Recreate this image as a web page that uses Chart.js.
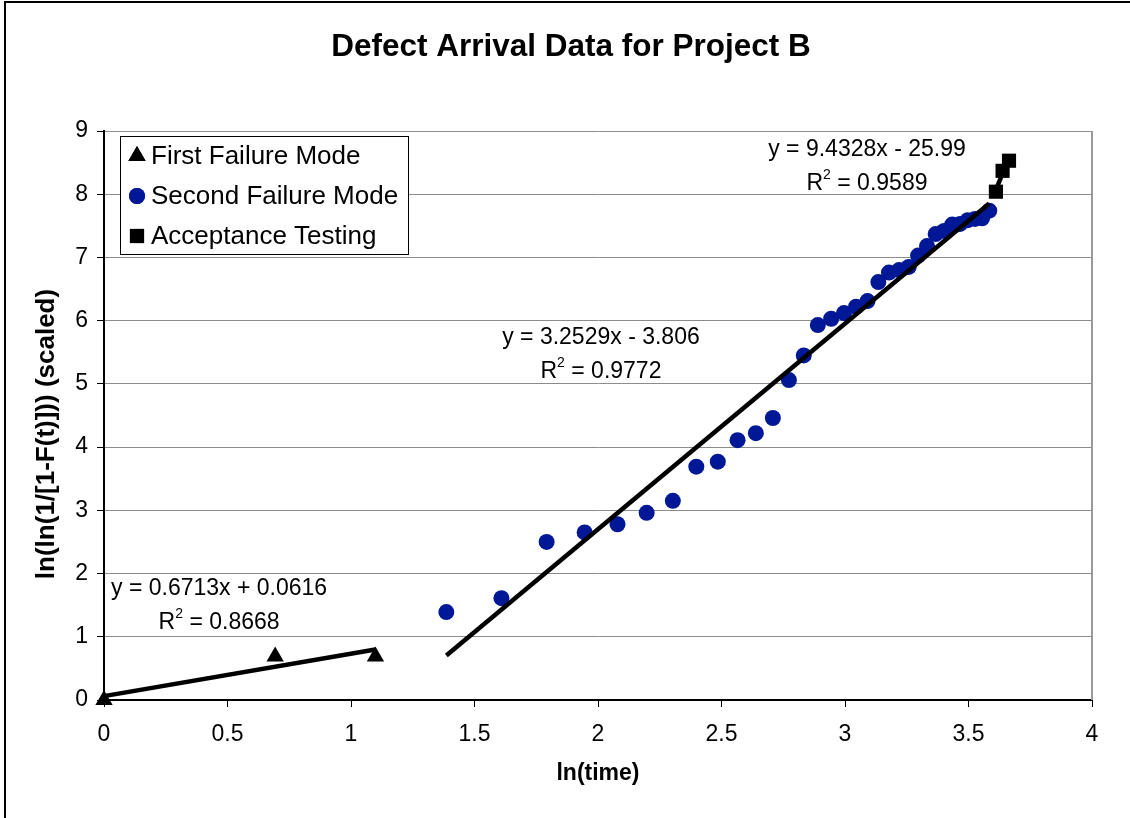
<!DOCTYPE html>
<html>
<head>
<meta charset="utf-8">
<script src="https://cdn.jsdelivr.net/npm/chart.js@4/dist/chart.umd.min.js"></script>
<style>
  body { margin: 0; background: #fff; }
  #wrap { position: relative; width: 1130px; height: 818px; overflow: hidden; }
  #frame { position: absolute; left: 4px; top: 1px; width: 1200px; height: 900px;
           border-left: 2px solid #000; border-top: 2px solid #000; pointer-events: none; }
  canvas { position: absolute; left: 0; top: 0; }
</style>
</head>
<body>
<div id="wrap">
  <div id="frame"></div>
  <canvas id="chart" width="1130" height="818"></canvas>
</div>
<script>
const FONT = 'Arial, "Liberation Sans", sans-serif';

// ln(time) and ln(ln(1/[1-F(t)])) (scaled)
const firstX = [0, 0.693, 1.099];
const firstY = [0, 0.69, 0.69];

const secondX = [1.386, 1.609, 1.792, 1.946, 2.079, 2.197, 2.303, 2.398, 2.485, 2.565,
                 2.639, 2.708, 2.773, 2.833, 2.890, 2.944, 2.996, 3.045, 3.091, 3.135,
                 3.178, 3.219, 3.258, 3.296, 3.332, 3.367, 3.401, 3.434, 3.466, 3.497,
                 3.526, 3.555, 3.584];
const secondY = [1.39, 1.61, 2.50, 2.65, 2.78, 2.96, 3.15, 3.69, 3.77, 4.11,
                 4.22, 4.46, 5.06, 5.45, 5.93, 6.03, 6.12, 6.22, 6.31, 6.61,
                 6.76, 6.80, 6.85, 7.03, 7.18, 7.37, 7.42, 7.52, 7.53, 7.59,
                 7.61, 7.62, 7.74];

const acceptX = [3.611, 3.638, 3.664];
const acceptY = [8.04, 8.37, 8.53];

const seriesNames = ["First Failure Mode", "Second Failure Mode", "Acceptance Testing"];

// linear trendlines: slope, intercept, x range
const trendSlope = [0.6713, 3.2529, 9.4328];
const trendIntercept = [0.0616, -3.806, -25.99];
const trendFrom = [0, 1.386, 3.611];
const trendTo = [1.099, 3.584, 3.664];
const trendEq = ["y = 0.6713x + 0.0616", "y = 3.2529x - 3.806", "y = 9.4328x - 25.99"];
const trendR2 = ["0.8668", "0.9772", "0.9589"];
// where each equation label sits, in data units (centre of the first line)
const labelX = [0.466, 2.012, 3.089];
const labelY = [1.76, 5.73, 8.70];

const xTicks = [0, 0.5, 1, 1.5, 2, 2.5, 3, 3.5, 4];
const yTicks = [0, 1, 2, 3, 4, 5, 6, 7, 8, 9];

const BLUE = "#001796";
const markerStyle = ["triangle", "circle", "rect"];
const markerColor = ["#000", BLUE, "#000"];
const markerSize = [10, 8, 10];

function pts(xs, ys) {
  return xs.map((x, i) => ({ x: x, y: ys[i] }));
}

function trend(i) {
  const a = trendSlope[i], b = trendIntercept[i];
  return [
    { x: trendFrom[i], y: a * trendFrom[i] + b },
    { x: trendTo[i], y: a * trendTo[i] + b }
  ];
}

const seriesData = [pts(firstX, firstY), pts(secondX, secondY), pts(acceptX, acceptY)];

const pointDatasets = [0, 1, 2].map(i => ({
  label: seriesNames[i],
  data: seriesData[i],
  pointStyle: markerStyle[i],
  pointRadius: markerSize[i],
  backgroundColor: markerColor[i],
  borderColor: markerColor[i],
  borderWidth: 0,
  clip: false,
  order: 1
}));

const trendDatasets = [0, 1, 2].map(i => ({
  type: "line",
  label: "trend" + i,
  data: trend(i),
  borderColor: "#000",
  borderWidth: 4.5,
  pointRadius: 0,
  fill: false,
  clip: false,
  order: 0
}));

const extras = {
  id: "extras",
  afterDatasetsDraw(chart) {
    const ctx = chart.ctx;
    const xs = chart.scales.x, ys = chart.scales.y;
    const area = chart.chartArea;
    ctx.save();

    // grey right edge of the plot area
    ctx.strokeStyle = "#999";
    ctx.lineWidth = 2;
    ctx.beginPath();
    ctx.moveTo(area.right, area.top);
    ctx.lineTo(area.right, area.bottom);
    ctx.stroke();

    // title
    ctx.fillStyle = "#000";
    ctx.font = "bold 31.5px " + FONT;
    ctx.textAlign = "center";
    ctx.textBaseline = "middle";
    ctx.fillText("Defect Arrival Data for Project B", 571, 47);

    // y axis title
    ctx.save();
    ctx.translate(47, 434);
    ctx.rotate(-Math.PI / 2);
    ctx.font = "bold 26px " + FONT;
    ctx.fillText("ln(ln(1/[1-F(t)])) (scaled)", 0, 0);
    ctx.restore();

    // trendline equations
    for (let i = 0; i < 3; i++) {
      const cx = xs.getPixelForValue(labelX[i]);
      const cy = ys.getPixelForValue(labelY[i]);
      ctx.font = "23px " + FONT;
      ctx.textAlign = "center";
      ctx.fillText(trendEq[i], cx, cy);
      // R² line with a small superscript
      const rest = " = " + trendR2[i];
      const wR = ctx.measureText("R").width;
      const wRest = ctx.measureText(rest).width;
      ctx.font = "14px " + FONT;
      const wSup = ctx.measureText("2").width;
      const sx = cx - (wR + wSup + wRest) / 2;
      const ry = cy + 34;
      ctx.textAlign = "left";
      ctx.font = "23px " + FONT;
      ctx.fillText("R", sx, ry);
      ctx.font = "14px " + FONT;
      ctx.fillText("2", sx + wR, ry - 9);
      ctx.font = "23px " + FONT;
      ctx.fillText(rest, sx + wR + wSup, ry);
    }

    // legend box
    const lx = 120, ly = 136, lw = 288, lh = 118;
    ctx.fillStyle = "#fff";
    ctx.fillRect(lx, ly, lw, lh);
    ctx.strokeStyle = "#000";
    ctx.lineWidth = 1;
    ctx.strokeRect(lx + 0.5, ly + 0.5, lw, lh);
    ctx.font = "26px " + FONT;
    ctx.textAlign = "left";
    ctx.textBaseline = "middle";
    for (let i = 0; i < 3; i++) {
      const yy = ly + 20 + i * 40;
      ctx.fillStyle = markerColor[i];
      ctx.strokeStyle = markerColor[i];
      Chart.helpers.drawPoint(ctx, { pointStyle: markerStyle[i], radius: markerSize[i], borderWidth: 0 }, 137, yy);
      ctx.fill();
      ctx.fillStyle = "#000";
      ctx.fillText(seriesNames[i], 151, yy + 1);
    }
    ctx.restore();
  }
};

new Chart(document.getElementById("chart"), {
  type: "scatter",
  data: { datasets: [...pointDatasets, ...trendDatasets] },
  options: {
    responsive: false,
    animation: false,
    layout: { padding: { left: 0, right: 38, top: 131, bottom: 0 } },
    plugins: {
      legend: { display: false },
      title: { display: false },
      tooltip: { enabled: false }
    },
    scales: {
      x: {
        type: "linear",
        min: 0,
        max: 4,
        afterBuildTicks: s => { s.ticks = xTicks.map(v => ({ value: v })); },
        afterFit: s => { s.height = 118; },
        border: { color: "#000", width: 2 },
        grid: {
          drawOnChartArea: false,
          tickLength: 7,
          tickColor: "#000",
          lineWidth: 1
        },
        ticks: {
          color: "#000",
          font: { family: FONT, size: 23 },
          padding: 14,
          maxRotation: 0,
          callback: v => String(v)
        },
        title: {
          display: true,
          text: "ln(time)",
          color: "#000",
          font: { family: FONT, size: 23, weight: "bold" },
          padding: { top: 0, bottom: 31 }
        }
      },
      y: {
        type: "linear",
        min: 0,
        max: 9,
        afterBuildTicks: s => { s.ticks = yTicks.map(v => ({ value: v })); },
        afterFit: s => { s.width = 104; },
        border: { color: "#000", width: 2 },
        grid: {
          color: "#8c8c8c",
          lineWidth: 1,
          tickLength: 7,
          tickColor: "#000"
        },
        ticks: { color: "#000", font: { family: FONT, size: 23 }, padding: 9, callback: v => String(v) },
        title: { display: false }
      }
    }
  },
  plugins: [extras]
});
</script>
</body>
</html>
